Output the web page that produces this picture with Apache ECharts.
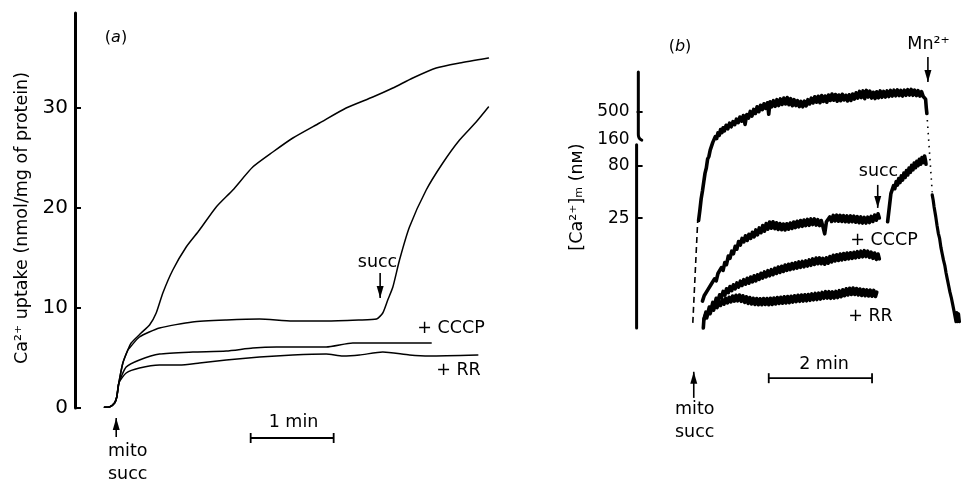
<!DOCTYPE html>
<html>
<head>
<meta charset="utf-8">
<script src="https://cdn.jsdelivr.net/npm/echarts@6.0.0/dist/echarts.min.js"></script>
<style>
html,body{margin:0;padding:0;background:#fff;}
#chart{width:962px;height:479px;}
</style>
</head>
<body>
<div id="chart"></div>
<script>
// ---------- Panel (a): Ca2+ uptake (nmol/mg of protein) vs time (s from mito addition)
const aControl = [[-8.7,0.07],[-5.1,0.1],[-1.4,0.5],[0.2,1.1],[1.7,2.5],[4.6,4.5],[8.2,5.8],[10.6,6.5],[17.8,7.5],[23.9,8.3],[28.7,9.5],[33.5,11.5],[40.7,13.8],[50.4,16.1],[60,17.8],[72.1,20.1],[84.1,21.8],[98.5,24.1],[113,25.6],[127.5,27],[146.8,28.5],[166,30],[185.3,31.1],[199.8,32],[214.2,33],[231.1,34],[248,34.5],[268.9,35]];
const aSuccRestart = [[-8.7,0.07],[-5.1,0.1],[-1.4,0.5],[0.2,1.1],[1.7,2.5],[4.6,4.5],[8.2,5.8],[9.4,6.0],[16.6,7.1],[31.1,8.0],[54.9,8.6],[79.5,8.8],[103.4,8.9],[127.2,8.7],[151.8,8.7],[175,8.8],[188,8.9],[192.5,9.5],[196.1,10.8],[199.8,12.1],[204.6,14.8],[211.8,18.1],[223.9,21.8],[235.9,24.5],[248,26.8],[260,28.6],[268.9,30.1]];
const aCCCP = [[-8.7,0.07],[-5.1,0.1],[-1.4,0.5],[0.2,1.1],[1.7,2.5],[7,4.1],[16.6,4.8],[31.1,5.4],[55.2,5.6],[79.3,5.7],[98.5,6.0],[115.7,6.1],[151.6,6.1],[170.8,6.5],[199.7,6.5],[227.5,6.5]];
const aRR = [[-8.7,0.07],[-5.1,0.1],[-1.4,0.5],[0.2,1.1],[1.7,2.5],[7,3.5],[16.6,4.0],[31.1,4.3],[45.5,4.3],[60,4.5],[79.3,4.8],[103.4,5.1],[127.4,5.3],[151.6,5.4],[163.6,5.2],[175.7,5.3],[192.5,5.6],[211.8,5.3],[226.3,5.2],[261.2,5.3]];
const aTickValues = [0,10,20,30];
const aSuccArrow = [[190.6,13.5],[190.6,11.0]];
const aMitoArrow = [[-0.2,-2.9],[-0.2,-1.0]];
const aScaleBar = [[97,-3.0],[157,-3.0]];

// ---------- Panel (b): fluorescence signal (arbitrary units) vs time (s from mito addition)
const bTickSignal = [42.9,63.3,73.5,84.5];
const bTickLabels = ['25','80','160','500'];
const bTickMarks = [42.9,63.3,84.5];
const bAxisUpper = [[-66,100],[-66,75.8],[-65.5,74.6],[-64,73.8],[-62,73.4]];
const bAxisLower = [[-68,71.6],[-68,0]];
const bDashedStart = [[-2.7,2],[3.0,42]];
const bControl = [[4,42],[5.5,46],[7,50.5],[8.5,53.5],[10,57],[11.5,60.5],[13,62.5],[14.5,66],[16,67],[17.5,69.5],[19,70],[20.5,72.5],[22,72.2],[23.5,74.8],[25,74],[26.5,76.2],[28,75.2],[29.5,77.5],[31,76.3],[32.5,78.2],[34,77],[36,79.2],[38,77.8],[40,80],[42,78.6],[44,80.6],[46,79.4],[48,81.6],[50,80.2],[52,82.4],[54,80.8],[56,83],[58,79.5],[60,83.4],[62,82],[64,84.6],[66,82.8],[68,85.4],[70,83.8],[72,86.4],[74,84.5],[76,87],[78,85.3],[80,87.6],[82,85.8],[84,88],[85.5,83.5],[87,88.4],[89,86.4],[91,88.8],[93,86.6],[95,89.2],[97,86.9],[99,89.5],[101,87.3],[103,89.8],[105,87.5],[107,90],[109,87.2],[111,89.6],[113,86.8],[115,89.2],[117,86.9],[119,88.8],[121,86.5],[123,88.5],[125,86.4],[127,88.6],[129,86.8],[131,89.2],[133,87.5],[135,89.8],[137,87.9],[139,90.3],[141,88.2],[143,90.5],[145,88],[147,90.8],[149,88.5],[151,90.6],[153,88.2],[155,91],[157,88.9],[159,91.4],[161,89],[163,91.2],[165,88.6],[167,91],[169,88.8],[171,91.3],[173,89.1],[175,90.9],[177,88.7],[179,91.1],[181,88.9],[183,91.4],[185,89.4],[187,91.9],[189,89.8],[191,92.4],[193,90],[195,92.6],[197,89.6],[199,92.8],[201,90.2],[203,92.5],[205,89.8],[207,92.1],[209,89.6],[211,92.3],[213,89.9],[215,92.6],[217,90.1],[219,92.4],[221,90.2],[223,92.6],[225,90.4],[227,92.8],[229,90.6],[231,92.9],[233,90.7],[235,93],[237,90.8],[239,92.8],[241,90.6],[243,92.9],[245,90.9],[247,93.1],[249,91],[251,93.2],[253,90.9],[255,92.9],[257,90.8],[259,92.7],[261,90.6],[263,92.3],[265,90.4],[266.5,91],[267.7,89.4],[268.5,86],[269.2,83.8]];
const bDotted = [[269.2,83.8],[275.4,53]];
const bQuench = [[275.4,52],[276.5,50],[277.5,47.5],[278.5,45.5],[279.5,43.5],[281,40],[282.5,37],[284,35],[285.5,31.5],[287,29],[288.5,26.5],[290,24.5],[291.5,21.5],[293,19],[294.5,16.5],[296,14],[297.5,12],[299,9.5],[300.5,7],[302,6.5],[303,2.5],[304,6],[305,2.5],[306,5.5],[307,2.5]];
const bCCCP = [[8.5,10.5],[10.5,12.6],[12.5,12.2],[14.5,14.8],[16.5,14.4],[18.5,17],[20.5,16.4],[22.5,19.2],[24.5,18.4],[26.5,21.3],[28.5,20.6],[30.5,23.6],[32.5,22.5],[34.5,25.6],[36.5,24.8],[38.5,28.1],[40.5,27.2],[42.5,30],[44.5,29],[46.5,31.9],[48.5,30.8],[50.5,33.8],[52.5,32.4],[54.5,35],[56.5,33.6],[58.5,36],[60.5,34.2],[62.5,36.6],[64.5,35],[66.5,37.4],[68.5,35.6],[70.5,38.3],[72.5,36.4],[74.5,39.1],[76.5,37.2],[78.5,40],[80.5,37.8],[82.5,40.8],[84.5,38.6],[86.5,41.4],[88.5,39],[90.5,41.5],[92.5,38.8],[94.5,41.1],[96.5,38.5],[98.5,40.8],[100.5,38.4],[102.5,40.6],[104.5,38.3],[106.5,40.7],[108.5,38.6],[110.5,41],[112.5,38.9],[114.5,41.4],[116.5,39.2],[118.5,41.7],[120.5,39.5],[122.5,42],[124.5,39.7],[126.5,42.2],[128.5,40],[130.5,42.4],[132.5,40.1],[134.5,42.6],[136.5,40.4],[138.5,42.6],[140.5,40.2],[142.5,42.3],[144.5,40],[146.5,42],[148.5,39.5],[150.5,36.8],[152.5,41.5],[154.5,40.8],[156.5,43.4],[158.5,41.6],[160.5,44],[162.5,41.8],[164.5,44.1],[166.5,41.7],[168.5,44],[170.5,41.6],[172.5,43.9],[174.5,41.5],[176.5,43.8],[178.5,41.4],[180.5,43.8],[182.5,41.5],[184.5,43.7],[186.5,41.3],[188.5,43.5],[190.5,41.1],[192.5,43.4],[194.5,41],[196.5,43.2],[198.5,41],[200.5,43.3],[202.5,41.2],[204.5,43.6],[206.5,41.6],[208.5,44.1],[210.5,42.1],[212.5,44.6],[214,43]];
const bCCCPSucc = [[223.6,41.5],[225.5,47],[227.4,52.5],[229,53],[230.5,55.6],[232,54.4],[233.5,57.2],[235,55.8],[236.5,58.4],[238,56.8],[239.5,59.4],[241,57.8],[242.5,60.5],[244,58.8],[245.5,61.5],[247,59.8],[248.5,62.5],[250,60.8],[251.5,63.5],[253,61.8],[254.5,64.4],[256,62.6],[257.5,65.1],[259,63.4],[260.5,65.9],[262,64],[263.5,66.6],[265,64.6],[266.5,67.2],[267.7,65.2],[268.2,64]];
const bMiddle = [[10.5,3.5],[12.5,6.2],[14.5,5.4],[16.5,8.2],[18.5,7.2],[20.5,10],[22.5,9],[24.5,11.6],[26.5,10.5],[28.5,13],[30.5,11.8],[32.5,14.3],[34.5,12.8],[36.5,15.3],[38.5,13.8],[40.5,16.2],[42.5,14.6],[44.5,16.9],[46.5,15.3],[48.5,17.6],[50.5,16],[52.5,18.3],[54.5,16.6],[56.5,18.9],[58.5,17.1],[60.5,19.4],[62.5,17.5],[64.5,19.9],[66.5,18],[68.5,20.4],[70.5,18.4],[72.5,20.8],[74.5,19],[76.5,21.4],[78.5,19.5],[80.5,21.9],[82.5,20],[84.5,22.4],[86.5,20.4],[88.5,22.8],[90.5,20.8],[92.5,23.3],[94.5,21.3],[96.5,23.8],[98.5,21.7],[100.5,24.1],[102.5,22.1],[104.5,24.6],[106.5,22.5],[108.5,24.9],[110.5,22.8],[112.5,25.2],[114.5,23.1],[116.5,25.5],[118.5,23.4],[120.5,25.8],[122.5,23.7],[124.5,26],[126.5,23.9],[128.5,26.2],[130.5,24.2],[132.5,26.6],[134.5,24.5],[136.5,27],[138.5,24.8],[140.5,27.3],[142.5,25.1],[144.5,27.4],[146.5,25.1],[148.5,27.2],[150.5,24.9],[152.5,27.4],[154.5,25.3],[156.5,27.9],[158.5,25.8],[160.5,28.4],[162.5,26.2],[164.5,28.6],[166.5,26.4],[168.5,28.9],[170.5,26.6],[172.5,29.1],[174.5,26.8],[176.5,29.3],[178.5,27],[180.5,29.4],[182.5,27.2],[184.5,29.6],[186.5,27.4],[188.5,29.8],[190.5,27.6],[192.5,30],[194.5,27.8],[196.5,30.2],[198.5,27.9],[200.5,30],[202.5,27.6],[204.5,29.6],[206.5,27.2],[208.5,29.3],[210.5,26.8],[212.5,28.9],[214,27]];
const bRR = [[9.5,0],[10.2,3.5],[11.5,4.8],[13.5,4],[15.5,6.6],[17.5,5.6],[19.5,8.2],[21.5,7],[23.5,9.4],[25.5,8],[27.5,10.4],[29.5,8.8],[31.5,11.1],[33.5,9.3],[35.5,11.6],[37.5,9.8],[39.5,12],[41.5,10.2],[43.5,12.5],[45.5,10.5],[47.5,12.8],[49.5,10.6],[51.5,12.9],[53.5,10.4],[55.5,12.6],[57.5,10],[59.5,12.2],[61.5,9.6],[63.5,11.9],[65.5,9.4],[67.5,11.6],[69.5,9.2],[71.5,11.5],[73.5,9.1],[75.5,11.4],[77.5,9.1],[79.5,11.5],[81.5,9.2],[83.5,11.5],[85.5,9.1],[87.5,11.6],[89.5,9.2],[91.5,11.7],[93.5,9.4],[95.5,11.9],[97.5,9.6],[99.5,12],[101.5,9.7],[103.5,12.2],[105.5,9.8],[107.5,12.3],[109.5,9.9],[111.5,12.4],[113.5,10.1],[115.5,12.6],[117.5,10.3],[119.5,12.8],[121.5,10.4],[123.5,12.9],[125.5,10.5],[127.5,13],[129.5,10.6],[131.5,13.1],[133.5,10.8],[135.5,13.3],[137.5,11],[139.5,13.5],[141.5,11.1],[143.5,13.6],[145.5,11.3],[147.5,13.9],[149.5,11.6],[151.5,14.2],[153.5,11.7],[155.5,14.2],[157.5,11.6],[159.5,14.1],[161.5,11.7],[163.5,14.3],[165.5,11.9],[167.5,14.6],[169.5,12.2],[171.5,14.9],[173.5,12.6],[175.5,15.3],[177.5,12.9],[179.5,15.5],[181.5,13.1],[183.5,15.6],[185.5,13.1],[187.5,15.4],[189.5,12.9],[191.5,15.2],[193.5,12.7],[195.5,15],[197.5,12.6],[199.5,14.9],[201.5,12.5],[203.5,14.8],[205.5,12.4],[207.5,14.7],[209.5,12.3],[211,14]];
const bMnArrow = [[270.4,105.9],[270.4,96.1]];
const bSuccArrow = [[212.1,55.9],[212.1,46.9]];
const bMitoArrow = [[-1.6,-27.3],[-1.6,-17.1]];
const bScaleBar = [[85.5,-19.6],[205.5,-19.6]];

// ---------- build chart
const FONT = '"DejaVu Sans", "Liberation Sans", sans-serif';
const INK = '#000';
const TXT = '#000';
const chart = echarts.init(document.getElementById('chart'), null, {renderer:'canvas'});

function trace(g, data, w, extra) {
  return Object.assign({
    type:'line', xAxisIndex:g, yAxisIndex:g, data:data, symbol:'none', showSymbol:false,
    lineStyle:{color:INK, width:w, join:'round', cap:'round'}, silent:true, animation:false, clip:false
  }, extra || {});
}
function arrow(g, pts, dir) {
  return {
    type:'line', xAxisIndex:g, yAxisIndex:g, silent:true, animation:false, clip:false,
    showSymbol:true, lineStyle:{color:INK, width:1.6}, itemStyle:{color:INK},
    data:[
      {value:pts[0], symbol:'none'},
      {value:pts[1], symbol:'triangle', symbolSize:[7,12], symbolRotate: dir==='down'?180:0, symbolOffset:[0, dir==='down'?-6:6]}
    ]
  };
}
function scaleBar(g, pts) {
  return {
    type:'line', xAxisIndex:g, yAxisIndex:g, silent:true, animation:false, clip:false,
    data:pts, symbol:'rect', symbolSize:[1.8,10], showSymbol:true,
    lineStyle:{color:INK, width:1.8}, itemStyle:{color:INK}
  };
}
function label(x, y, text, size, extra) {
  return Object.assign({
    type:'text', x:x, y:y, silent:true,
    style:{text:text, fill:TXT, fontSize:size, fontFamily:FONT, align:'center', verticalAlign:'middle'}
  }, extra || {});
}
function leftLabel(x, y, text, size) {
  return {type:'text', x:x, y:y, silent:true,
    style:{text:text, fill:TXT, fontSize:size, fontFamily:FONT, align:'left', verticalAlign:'middle'}};
}
function panelLetter(x, y, letter) {
  return {type:'text', x:x, y:y, silent:true,
    style:{text:'({i|' + letter + '})', fill:TXT, fontSize:16, fontFamily:FONT, align:'center', verticalAlign:'middle',
      rich:{i:{fontStyle:'italic', fontSize:16, fontFamily:FONT, fill:TXT}}}};
}

const option = {
  backgroundColor:'#fff',
  animation:false,
  grid:[
    {left:75, top:13, width:428.8, height:395},
    {left:636.6, top:72, width:328.5, height:256}
  ],
  xAxis:[
    {type:'value', gridIndex:0, min:-30, max:280, show:false},
    {type:'value', gridIndex:1, min:-68, max:310, show:false}
  ],
  yAxis:[
    {type:'value', gridIndex:0, min:0, max:39.5, interval:10,
     axisLine:{show:true, onZero:false, lineStyle:{color:INK, width:3}},
     axisTick:{show:true, inside:true, length:6, lineStyle:{color:INK, width:2}, customValues:aTickValues},
     axisLabel:{show:true, color:TXT, fontSize:20, fontFamily:FONT, margin:7, customValues:aTickValues},
     splitLine:{show:false}},
    {type:'value', gridIndex:1, min:0, max:100,
     axisLine:{show:false, onZero:false},
     axisTick:{show:true, inside:true, length:6, lineStyle:{color:INK, width:2}, customValues:bTickMarks},
     axisLabel:{show:true, color:TXT, fontSize:17, fontFamily:FONT, margin:7, customValues:bTickSignal,
       formatter:function(v){
         let best=0, d=1e9;
         bTickSignal.forEach(function(s,i){ if(Math.abs(s-v)<d){d=Math.abs(s-v);best=i;} });
         return bTickLabels[best];
       }},
     splitLine:{show:false}}
  ],
  series:[
    trace(0, aControl, 1.5, {smooth:0.2}),
    trace(0, aSuccRestart, 1.5, {smooth:0.2}),
    trace(0, aCCCP, 1.5, {smooth:0.2}),
    trace(0, aRR, 1.5, {smooth:0.2}),
    arrow(0, aSuccArrow, 'down'),
    arrow(0, aMitoArrow, 'up'),
    scaleBar(0, aScaleBar),

    trace(1, bAxisUpper, 3, {smooth:0.4}),
    trace(1, bAxisLower, 3),
    trace(1, bDashedStart, 1.6, {lineStyle:{color:INK, width:1.6, type:[6,4]}}),
    trace(1, bControl, 3.6),
    trace(1, bDotted, 1.6, {lineStyle:{color:INK, width:1.6, type:[1.5,5]}}),
    trace(1, bQuench, 3.2),
    trace(1, bCCCP, 3.6),
    trace(1, bCCCPSucc, 3.6),
    trace(1, bMiddle, 3.6),
    trace(1, bRR, 3.6),
    arrow(1, bMnArrow, 'down'),
    arrow(1, bSuccArrow, 'down'),
    arrow(1, bMitoArrow, 'up'),
    scaleBar(1, bScaleBar)
  ],
  graphic:[
    // panel (a)
    panelLetter(116, 38, 'a'),
    label(22, 218, 'Ca²⁺ uptake (nmol/mg of protein)', 17.5, {rotation:Math.PI/2}),
    label(377.5, 262, 'succ', 17.5),
    label(451, 328, '+ CCCP', 17.5),
    label(458.5, 370, '+ RR', 17.5),
    label(293.5, 422.5, '1 min', 17.5),
    leftLabel(108, 451, 'mito', 17.5),
    leftLabel(108, 474, 'succ', 17.5),
    // panel (b)
    panelLetter(680, 47, 'b'),
    label(577, 197, '[Ca²⁺]ₘ (nᴍ)', 17.5, {rotation:Math.PI/2}),
    label(928.5, 44, 'Mn²⁺', 17.5),
    label(878.5, 171.5, 'succ', 17.5),
    label(884, 240, '+ CCCP', 17.5),
    label(870.5, 316.5, '+ RR', 17.5),
    label(824, 364, '2 min', 17.5),
    leftLabel(675, 409.5, 'mito', 17.5),
    leftLabel(675, 432.5, 'succ', 17.5)
  ]
};
chart.setOption(option);
</script>
</body>
</html>
